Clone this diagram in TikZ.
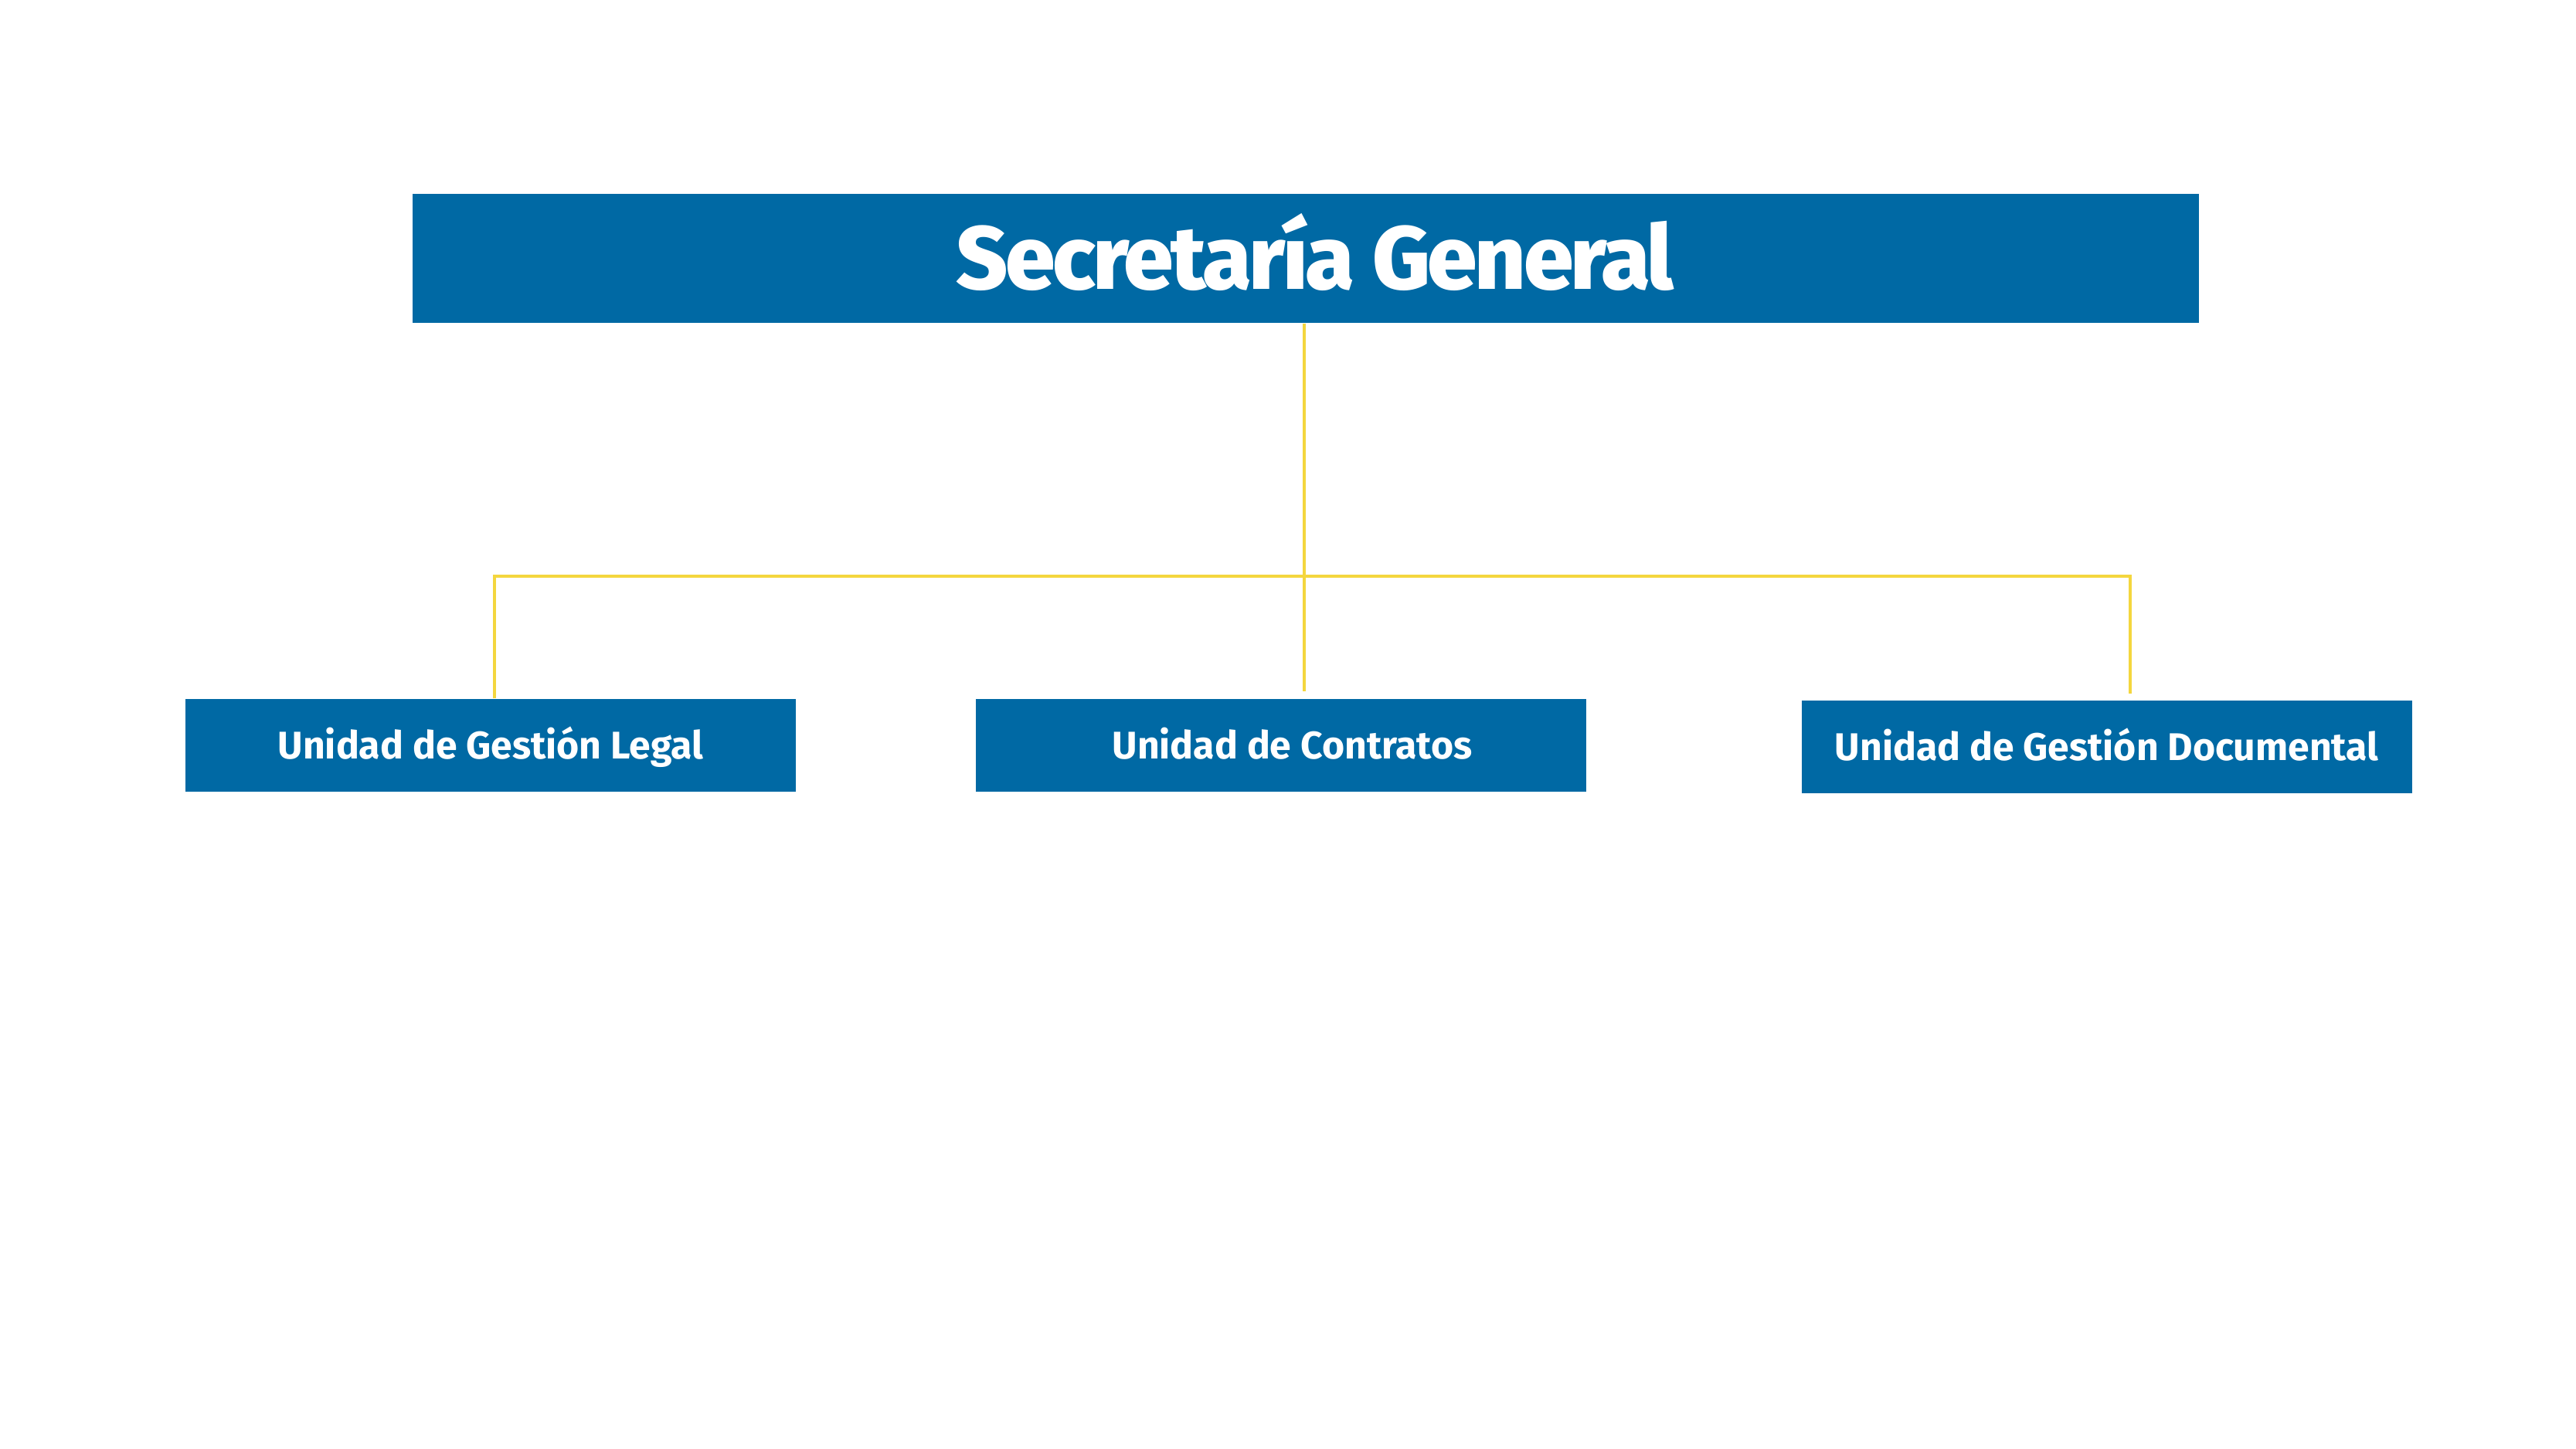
\documentclass[tikz,border=0pt]{standalone}
\usepackage{fontspec}
\setmainfont{Fira Sans}
\newfontfamily\sghead[LetterSpace=-3]{Fira Sans ExtraBold}
\definecolor{sgblue}{HTML}{0069A4}
\definecolor{sgyellow}{HTML}{F4D63E}
\begin{document}
\begin{tikzpicture}[
  headbox/.style={fill=sgblue, text=white, minimum width=23.12cm, minimum height=1.67cm, inner sep=0pt, text height=0.8cm, text depth=0pt, font=\fontsize{33}{36}\sghead},
  unitbox/.style={fill=sgblue, text=white, minimum width=7.9cm, minimum height=1.2cm, inner sep=0pt, text height=0.35cm, text depth=0pt, font=\fontsize{14.2}{17}\selectfont\bfseries},
  link/.style={draw=sgyellow, line width=1.1pt}]
\useasboundingbox (0,0) rectangle (33.34,18.75);

\node(SG)[headbox] at (16.90,15.405) {\hspace*{0.24cm}Secretaría General};

\node(UGL)[unitbox] at (6.35,9.10) {Unidad de Gestión Legal};
\node(UC)[unitbox] at (16.575,9.10) {\hspace*{0.3cm}Unidad de Contratos};
\node(UGD)[unitbox] at (27.265,9.08) {Unidad de Gestión Documental};

\coordinate(J) at (16.88,11.29);
\coordinate(JL) at (6.40,11.29);
\coordinate(JR) at (27.57,11.29);
\coordinate(EC) at (16.88,9.80);
\coordinate(ER) at (27.57,9.77);

\draw[link] (SG.south -| J) -- (J);
\draw[link] (JL |- UGL.north) -- (JL) -- (JR) -- (ER);
\draw[link] (J) -- (EC);
\end{tikzpicture}
\end{document}
